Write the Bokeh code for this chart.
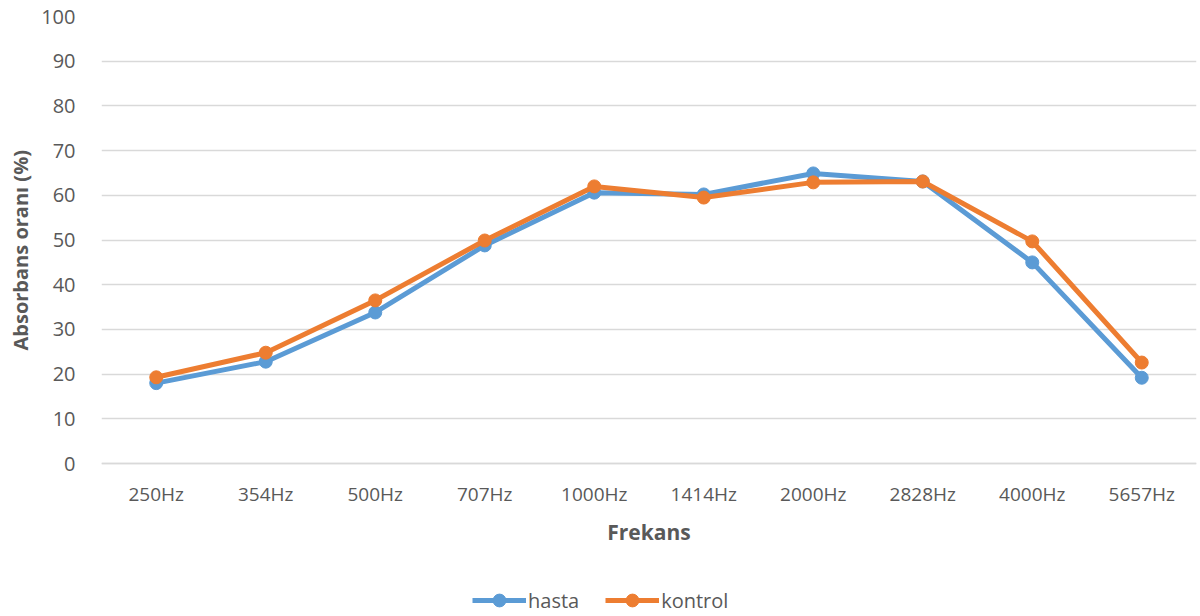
from bokeh.plotting import figure
from bokeh.models import ColumnDataSource, Legend, LegendItem, FactorRange, FixedTicker, Title
from bokeh.embed import file_html
from bokeh.resources import INLINE

frequencies = ["250Hz", "354Hz", "500Hz", "707Hz", "1000Hz", "1414Hz",
               "2000Hz", "2828Hz", "4000Hz", "5657Hz"]
hasta = [18.0, 22.8, 33.8, 48.8, 60.6, 60.2, 64.9, 63.1, 45.0, 19.2]
kontrol = [19.3, 24.8, 36.5, 49.9, 62.0, 59.5, 62.9, 63.1, 49.7, 22.6]
y_ticks = [0, 10, 20, 30, 40, 50, 60, 70, 80, 90, 100]

BLUE = "#5B9BD5"
ORANGE = "#ED7D31"
GREY = "#595959"
FONT = "Open Sans"

src = ColumnDataSource(dict(f=frequencies, hasta=hasta, kontrol=kontrol))

# the frame runs to the bottom of the canvas so the category axis and
# the legend can sit in the space under the zero line
p = figure(width=1200, height=616, output_backend="svg", toolbar_location=None,
           x_range=FactorRange(*frequencies, range_padding=0),
           y_range=(-34.2, 100),
           min_border_left=101, min_border_right=4, min_border_top=16,
           min_border_bottom=0)
p.outline_line_color = None

r_h_line = p.line("f", "hasta", source=src, color=BLUE, line_width=5)
r_h_dot = p.scatter("f", "hasta", source=src, color=BLUE, size=13)
r_k_line = p.line("f", "kontrol", source=src, color=ORANGE, line_width=5)
r_k_dot = p.scatter("f", "kontrol", source=src, color=ORANGE, size=13)

# grid
p.xgrid.grid_line_color = None
p.ygrid.ticker = FixedTicker(ticks=y_ticks)
p.ygrid.grid_line_color = "#d9d9d9"
p.ygrid.grid_line_width = 1.5

# y axis
p.yaxis.ticker = FixedTicker(ticks=y_ticks)
p.yaxis.axis_line_color = None
p.yaxis.major_tick_line_color = None
p.yaxis.minor_tick_line_color = None
p.yaxis.major_label_text_font = FONT
p.yaxis.major_label_text_font_size = "20px"
p.yaxis.major_label_text_color = GREY
p.yaxis.major_label_standoff = 20

# y title, anchored from the bottom so it centres on the 0..100 span
p.add_layout(Title(text="Absorbans oranı (%)", align="left", offset=266,
                   text_font=FONT, text_font_style="bold",
                   text_font_size="20px", text_color=GREY, standoff=9), "left")

# category axis pinned at the zero line
p.xaxis.fixed_location = 0
p.xaxis.axis_line_color = "#d9d9d9"
p.xaxis.axis_line_width = 1.5
p.xaxis.major_tick_line_color = None
p.xaxis.minor_tick_line_color = None
p.xaxis.major_label_text_font = FONT
p.xaxis.major_label_text_font_size = "19px"
p.xaxis.major_label_text_color = GREY
p.xaxis.major_label_standoff = 11
p.xaxis.axis_label = "Frekans"
p.xaxis.axis_label_text_font = FONT
p.xaxis.axis_label_text_font_style = "bold"
p.xaxis.axis_label_text_font_size = "21px"
p.xaxis.axis_label_text_color = GREY
p.xaxis.axis_label_standoff = 8

legend = Legend(items=[
    LegendItem(label="hasta", renderers=[r_h_line, r_h_dot]),
    LegendItem(label="kontrol", renderers=[r_k_line, r_k_dot]),
], orientation="horizontal", location=(371, 0),
    label_text_font=FONT, label_text_font_size="20px", label_text_color=GREY,
    glyph_width=54, glyph_height=32, label_height=32,
    label_standoff=2, spacing=26, padding=0, margin=0,
    background_fill_alpha=0, border_line_color=None)
p.add_layout(legend, "center")

open("out.html", "w").write(file_html(p, INLINE))
